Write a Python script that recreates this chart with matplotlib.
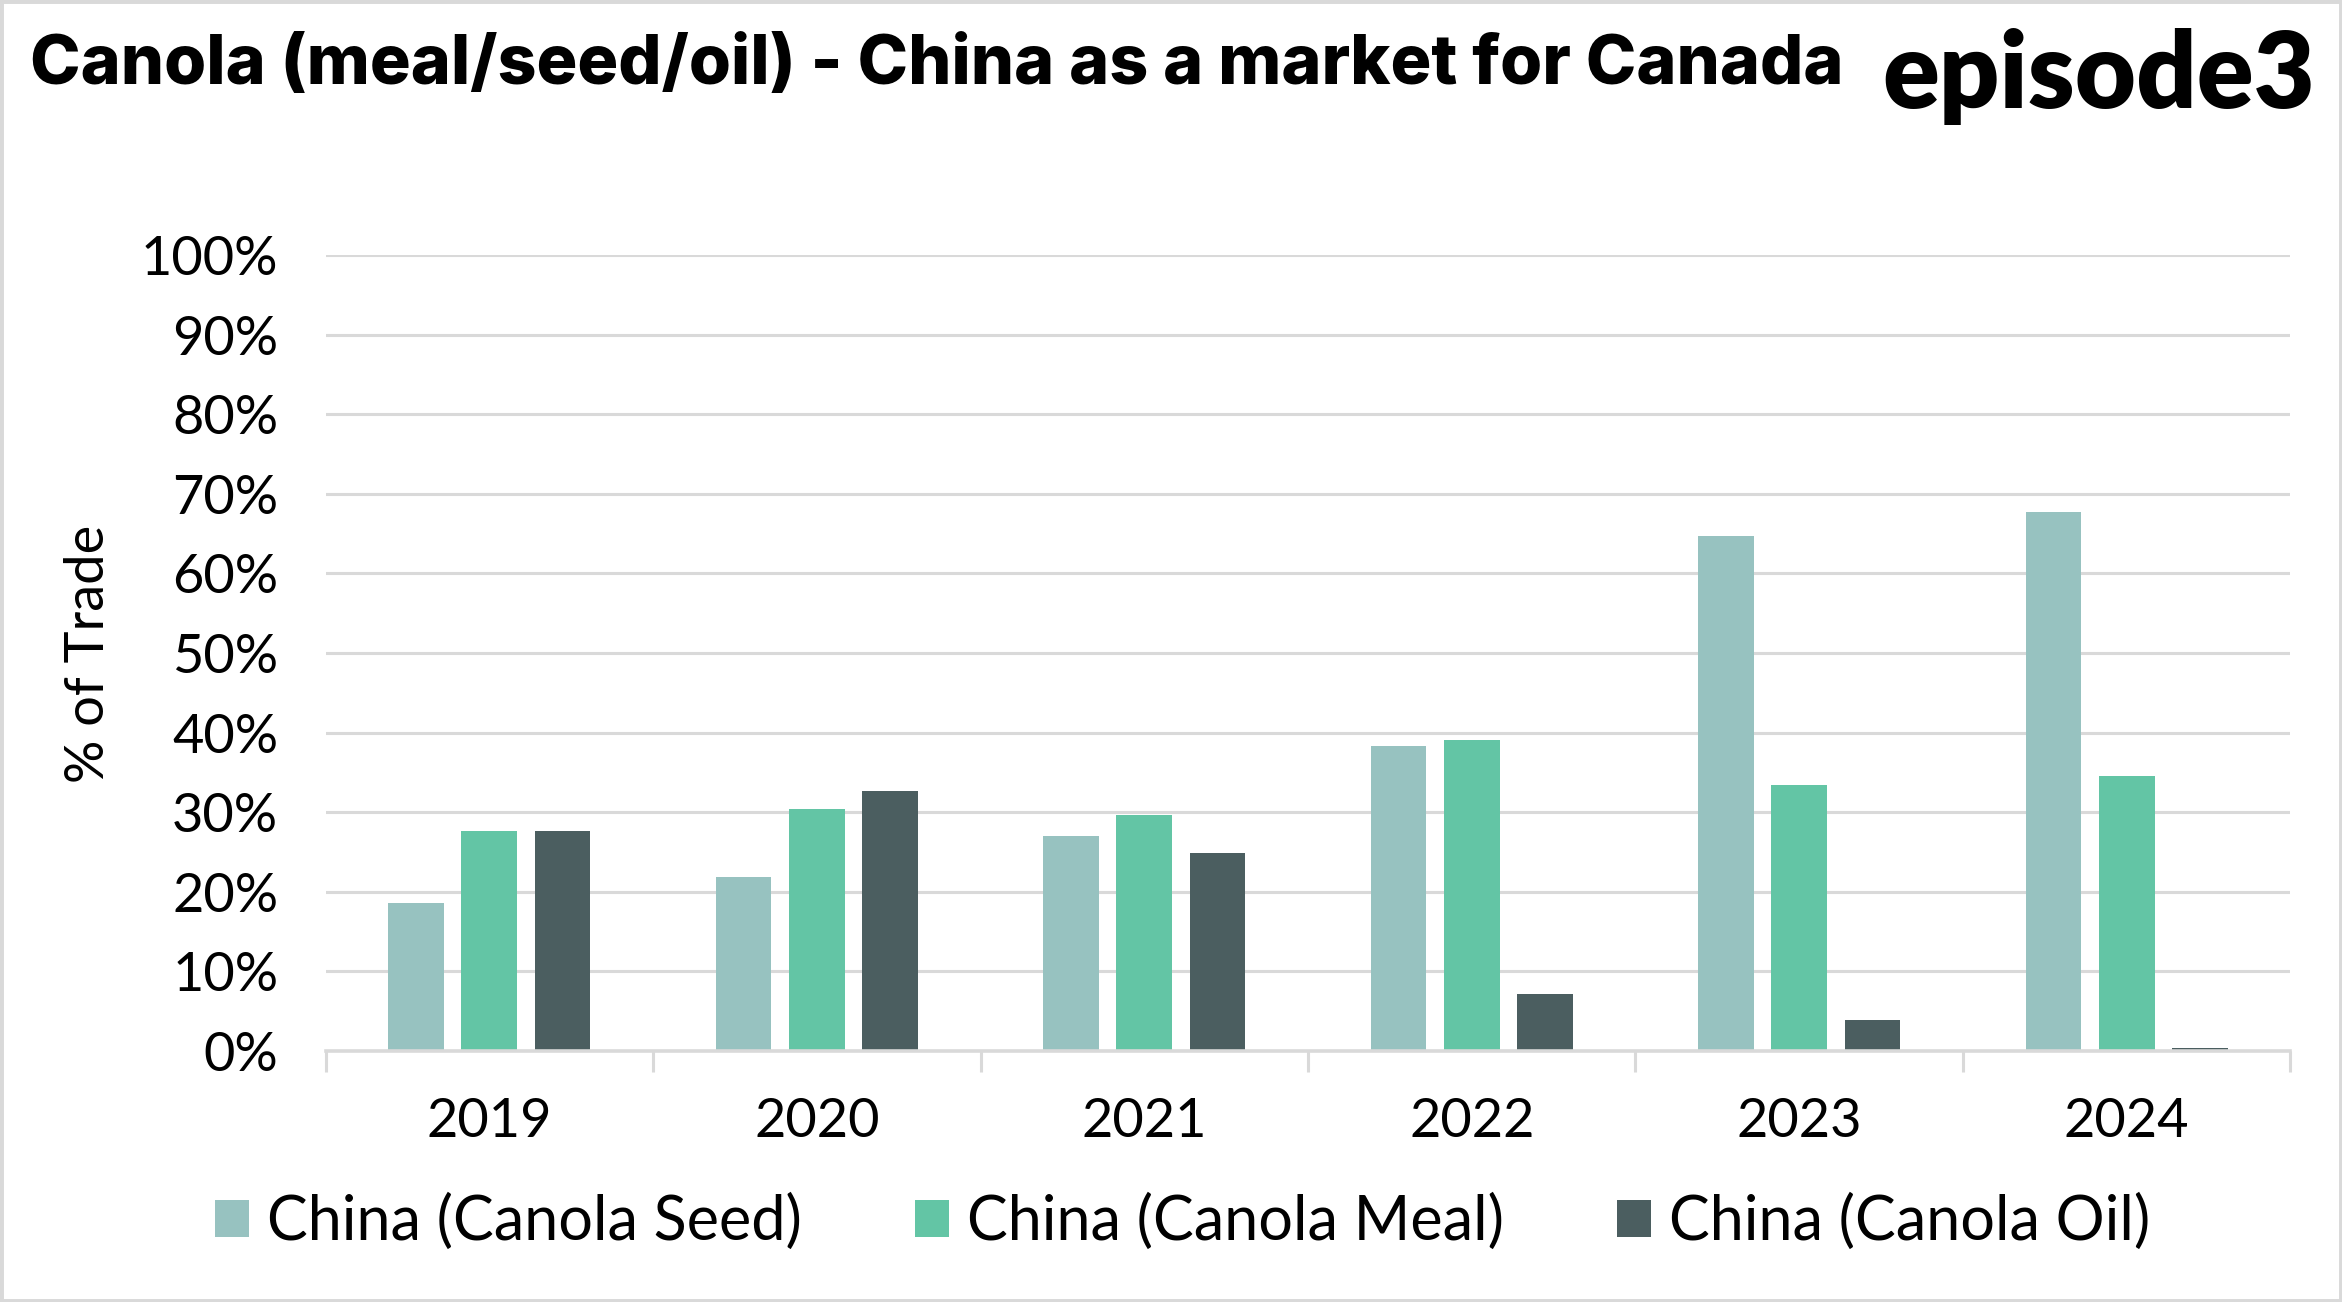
from matplotlib import pyplot as plt
from matplotlib.patches import Rectangle
from matplotlib.ticker import PercentFormatter
import numpy as np

# share of Canadian canola exports going to China (%)
YEARS = ["2019", "2020", "2021", "2022", "2023", "2024"]
SEED = [18.6, 21.8, 27.0, 38.3, 64.7, 67.7]
MEAL = [27.6, 30.4, 29.6, 39.0, 33.4, 34.5]
OIL = [27.6, 32.6, 24.8, 7.1, 3.8, 0.4]

SERIES = ["China (Canola Seed)", "China (Canola Meal)", "China (Canola Oil)"]
COLOURS = ["#97c2c0", "#63c5a5", "#4b5e60"]
GRID = "#d9d9d9"

plt.rcParams["font.family"] = ["Lato", "DejaVu Sans"]

fig = plt.figure(figsize=(11.71, 6.51), dpi=200)
ax = fig.add_axes([0.139, 0.193, 0.839, 0.611])

x = np.arange(len(YEARS))
offsets = [-0.224, 0, 0.224]
for vals, off, col, name in zip([SEED, MEAL, OIL], offsets, COLOURS, SERIES):
    ax.bar(x + off, vals, width=0.17, color=col, label=name, zorder=3)

ax.set_xlim(-0.5, len(YEARS) - 0.5)
ax.set_ylim(0, 100)
ax.set_yticks(np.arange(0, 101, 10))
ax.yaxis.set_major_formatter(PercentFormatter(decimals=0))
ax.grid(axis="y", color=GRID, linewidth=1.1, zorder=0)
ax.tick_params(axis="y", length=0, pad=17, labelsize=19.5)

# category boundaries get the tick marks, centres get the labels
ax.set_xticks(np.arange(-0.5, len(YEARS)), labels=[""] * (len(YEARS) + 1))
ax.set_xticks(x, labels=YEARS, minor=True)
ax.tick_params(axis="x", which="major", length=7.5, width=1.1, color=GRID)
ax.tick_params(axis="x", which="minor", length=0, pad=16.5, labelsize=19.5)

for side in ["left", "right", "top"]:
    ax.spines[side].set_visible(False)
ax.spines["bottom"].set_color(GRID)
ax.spines["bottom"].set_linewidth(1.3)
ax.spines["bottom"].set_zorder(4)

fig.text(0.038, 0.498, "% of Trade", rotation=90, ha="center", va="center", fontsize=19.5)

fig.text(0.0128, 0.949, "Canola (meal/seed/oil) - China as a market for Canada",
         ha="left", va="center", fontsize=24.5, fontweight="heavy",
         family=["Inter", "DejaVu Sans"])
fig.text(0.9885, 0.917, "episode3", ha="right", va="baseline", fontsize=38, fontweight="heavy")

fig.legend(loc="center", bbox_to_anchor=(0.505, 0.061), ncol=3, frameon=False,
           fontsize=22, handlelength=0.55, handleheight=0.55, handletextpad=0.3,
           columnspacing=1.85)

fig.patches.append(Rectangle((0, 0), 1, 1, transform=fig.transFigure, fill=False,
                             edgecolor=GRID, linewidth=2.5))

fig.savefig("out.png", dpi=200, facecolor="white")
